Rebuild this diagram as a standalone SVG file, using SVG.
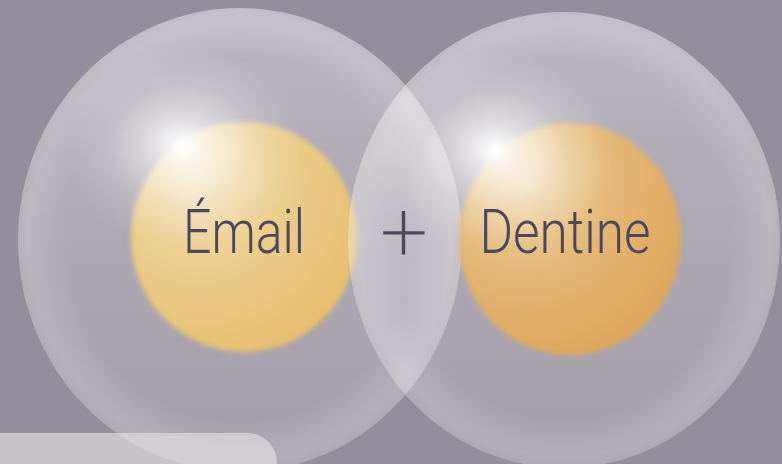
<svg xmlns="http://www.w3.org/2000/svg" width="782" height="464" viewBox="0 0 782 464">
<style>
.lbl{font-family:Roboto,"Liberation Sans",sans-serif;font-weight:300;fill:#4e475a;font-size:62px}
.plus{font-size:82px;font-weight:100;stroke:#4e475a;stroke-width:1.2px}
</style>
<defs>
<linearGradient id="bubV" x1="0" y1="0" x2="0" y2="1">
<stop offset="0" stop-color="#ffffff" stop-opacity="0.36"/>
<stop offset="0.45" stop-color="#ffffff" stop-opacity="0.24"/>
<stop offset="1" stop-color="#ffffff" stop-opacity="0.14"/>
</linearGradient>
<radialGradient id="rim" cx="0.5" cy="0.5" r="0.5">
<stop offset="0" stop-color="#ffffff" stop-opacity="0"/>
<stop offset="0.78" stop-color="#ffffff" stop-opacity="0"/>
<stop offset="0.95" stop-color="#ffffff" stop-opacity="0.16"/>
<stop offset="1" stop-color="#ffffff" stop-opacity="0.1"/>
</radialGradient>
<radialGradient id="hl" cx="0.5" cy="0.5" r="0.5">
<stop offset="0" stop-color="#ffffff" stop-opacity="1"/>
<stop offset="0.25" stop-color="#ffffff" stop-opacity="0.6"/>
<stop offset="0.6" stop-color="#ffffff" stop-opacity="0.2"/>
<stop offset="1" stop-color="#ffffff" stop-opacity="0"/>
</radialGradient>
<radialGradient id="orL" cx="0.3" cy="0.25" r="0.85">
<stop offset="0" stop-color="#f2e2bf"/>
<stop offset="0.45" stop-color="#ebcd8c"/>
<stop offset="1" stop-color="#e6bd6c"/>
</radialGradient>
<radialGradient id="orR" cx="0.3" cy="0.25" r="0.85">
<stop offset="0" stop-color="#f0dcb8"/>
<stop offset="0.45" stop-color="#e4b877"/>
<stop offset="1" stop-color="#dea458"/>
</radialGradient>
<filter id="soft" x="-10%" y="-10%" width="120%" height="120%"><feGaussianBlur stdDeviation="2.5"/></filter>
</defs>
<rect width="782" height="464" fill="#948e9a"/>
<g id="email">
<ellipse cx="240" cy="240" rx="222" ry="232" fill="url(#bubV)"/>
<ellipse cx="240" cy="240" rx="222" ry="232" fill="url(#rim)"/>
<ellipse cx="244" cy="237" rx="113" ry="115" fill="url(#orL)" filter="url(#soft)"/>
<ellipse cx="182" cy="145" rx="120" ry="100" fill="url(#hl)"/>
<text class="lbl" x="244" y="253" text-anchor="middle" textLength="122" lengthAdjust="spacingAndGlyphs">Émail</text>
</g>
<g id="dentine">
<ellipse cx="564" cy="240" rx="216" ry="228" fill="url(#bubV)"/>
<ellipse cx="564" cy="240" rx="216" ry="228" fill="url(#rim)"/>
<ellipse cx="570" cy="239" rx="111" ry="116" fill="url(#orR)" filter="url(#soft)"/>
<ellipse cx="495" cy="150" rx="120" ry="100" fill="url(#hl)"/>
<text class="lbl" x="565" y="253" text-anchor="middle" textLength="171" lengthAdjust="spacingAndGlyphs">Dentine</text>
</g>
<g id="plus">
<text class="lbl plus" x="404" y="260" text-anchor="middle">+</text>
</g>
<path d="M0,433 H247 A30,30 0 0 1 277,463 V464 H0 Z" fill="#e8e6ea" fill-opacity="0.6"/>
</svg>
